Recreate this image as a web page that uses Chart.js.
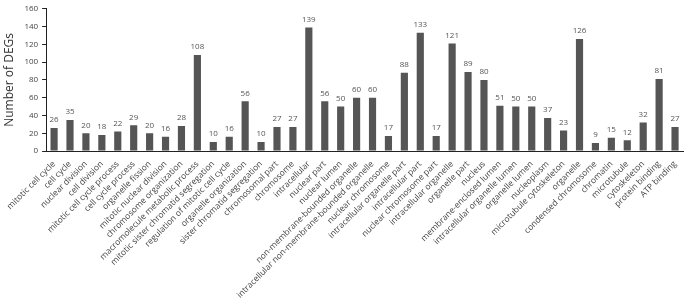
<!DOCTYPE html>
<html>
<head>
<meta charset="utf-8">
<script src="https://cdn.jsdelivr.net/npm/chart.js@4/dist/chart.umd.min.js"></script>
<style>
  html, body { margin: 0; padding: 0; background: #fff; }
  #grafico { display: block; }
</style>
</head>
<body>
<canvas id="grafico" width="685" height="298"></canvas>
<script>
// termos GO (eixo x)
const categorias = [
  'mitotic cell cycle', 'cell cycle', 'nuclear division', 'cell division',
  'mitotic cell cycle process', 'cell cycle process', 'organelle fission',
  'mitotic nuclear division', 'chromosome organization',
  'macromolecule metabolic process', 'mitotic sister chromatid segregation',
  'regulation of mitotic cell cycle', 'organelle organization',
  'sister chromatid segregation', 'chromosomal part', 'chromosome',
  'intracellular', 'nuclear part', 'nuclear lumen',
  'non-membrane-bounded organelle',
  'intracellular non-membrane-bounded organelle', 'nuclear chromosome',
  'intracellular organelle part', 'intracellular part',
  'nuclear chromosome part', 'intracellular organelle', 'organelle part',
  'nucleus', 'membrane-enclosed lumen', 'intracellular organelle lumen',
  'organelle lumen', 'nucleoplasm', 'microtubule cytoskeleton', 'organelle',
  'condensed chromosome', 'chromatin', 'microtubule', 'cytoskeleton',
  'protein binding', 'ATP binding'
];

// numero de DEGs por termo
const numeroDEGs = [
  26, 35, 20, 18, 22, 29, 20, 16, 28, 108, 10, 16, 56, 10, 27, 27,
  139, 56, 50, 60, 60, 17, 88, 133, 17, 121, 89, 80, 51, 50, 50, 37,
  23, 126, 9, 15, 12, 32, 81, 27
];

const ticksY = [0, 20, 40, 60, 80, 100, 120, 140, 160];

const fonte = "'Open Sans', 'Liberation Sans', sans-serif";

// escreve o valor em cima de cada barra
const rotulosBarras = {
  id: 'rotulosBarras',
  afterDatasetsDraw(chart) {
    const ctx = chart.ctx;
    const meta = chart.getDatasetMeta(0);
    ctx.save();
    ctx.fillStyle = '#555';
    ctx.font = '8px ' + fonte;
    ctx.textAlign = 'center';
    ctx.textBaseline = 'bottom';
    meta.data.forEach((barra, i) => {
      ctx.fillText(numeroDEGs[i], barra.x, barra.y - 4);
    });
    ctx.restore();
  }
};

new Chart(document.getElementById('grafico'), {
  type: 'bar',
  data: {
    labels: categorias,
    datasets: [{
      data: numeroDEGs,
      backgroundColor: '#555555',
      borderWidth: 0,
      barPercentage: 0.45,
      categoryPercentage: 1
    }]
  },
  options: {
    responsive: false,
    animation: false,
    layout: { padding: { top: 4, right: 2, left: 2, bottom: 0 } },
    plugins: {
      legend: { display: false },
      tooltip: { enabled: false }
    },
    scales: {
      x: {
        grid: { display: false },
        border: { display: true, color: '#222', width: 1 },
        ticks: {
          autoSkip: false,
          maxRotation: 45,
          minRotation: 45,
          padding: 0,
          color: '#444',
          font: { family: fonte, size: 8.5 }
        }
      },
      y: {
        min: 0,
        max: 160,
        afterBuildTicks(eixo) {
          eixo.ticks = ticksY.map(v => ({ value: v }));
        },
        grid: { drawOnChartArea: false, drawTicks: true, tickLength: 4, color: '#222' },
        border: { display: true, color: '#222', width: 1 },
        ticks: {
          padding: 4,
          color: '#444',
          font: { family: fonte, size: 8 }
        },
        title: {
          display: true,
          text: 'Number of DEGs',
          color: '#333',
          padding: { top: 0, bottom: 4 },
          font: { family: fonte, size: 12 }
        }
      }
    }
  },
  plugins: [rotulosBarras]
});
</script>
</body>
</html>
